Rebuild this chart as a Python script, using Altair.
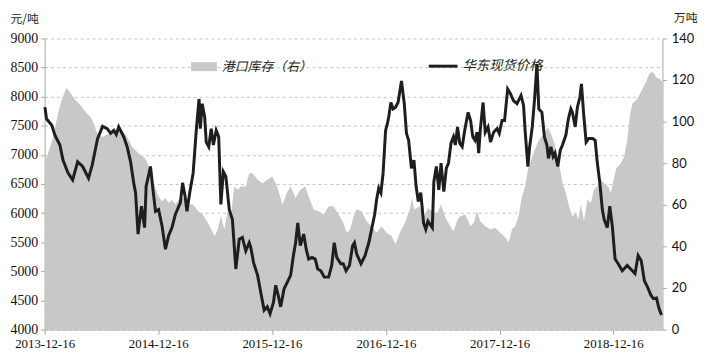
import altair as alt
import pandas as pd

# ---------------- data ----------------
PRICE_DATES = [
    "2013-12-17", "2013-12-22", "2014-01-08", "2014-01-18", "2014-02-03", "2014-02-13", "2014-03-01", "2014-03-16",
    "2014-04-01", "2014-04-17", "2014-05-06", "2014-05-18", "2014-06-04", "2014-06-20", "2014-07-05", "2014-07-16",
    "2014-07-26", "2014-08-03", "2014-08-11", "2014-08-27", "2014-09-07", "2014-09-18", "2014-09-28", "2014-10-04",
    "2014-10-12", "2014-10-23", "2014-11-02", "2014-11-07", "2014-11-21", "2014-11-29", "2014-12-07", "2014-12-17",
    "2014-12-28", "2015-01-08", "2015-01-18", "2015-01-29", "2015-02-09", "2015-02-25", "2015-03-04", "2015-03-12",
    "2015-03-18", "2015-03-27", "2015-04-07", "2015-04-17", "2015-04-26", "2015-04-30", "2015-05-06", "2015-05-14",
    "2015-05-19", "2015-05-27", "2015-06-04", "2015-06-11", "2015-06-20", "2015-06-28", "2015-07-05", "2015-07-13",
    "2015-07-21", "2015-08-01", "2015-08-11", "2015-08-22", "2015-09-02", "2015-09-12", "2015-09-23", "2015-10-04",
    "2015-10-09", "2015-10-18", "2015-10-31", "2015-11-10", "2015-11-21", "2015-12-01", "2015-12-10", "2015-12-21",
    "2015-12-28", "2016-01-05", "2016-01-13", "2016-01-24", "2016-02-03", "2016-02-14", "2016-02-23", "2016-03-01",
    "2016-03-08", "2016-03-16", "2016-03-27", "2016-04-04", "2016-04-12", "2016-04-23", "2016-05-03", "2016-05-11",
    "2016-05-21", "2016-06-01", "2016-06-15", "2016-06-25", "2016-07-03", "2016-07-11", "2016-07-24", "2016-08-01",
    "2016-08-10", "2016-08-21", "2016-08-31", "2016-09-06", "2016-09-13", "2016-09-27", "2016-10-10", "2016-10-22",
    "2016-10-31", "2016-11-10", "2016-11-16", "2016-11-23", "2016-11-30", "2016-12-07", "2016-12-15", "2016-12-21",
    "2016-12-25", "2017-01-01", "2017-01-08", "2017-01-16", "2017-01-24", "2017-02-04", "2017-02-13", "2017-02-20",
    "2017-02-27", "2017-03-08", "2017-03-16", "2017-03-23", "2017-03-30", "2017-04-07", "2017-04-16", "2017-04-23",
    "2017-04-30", "2017-05-14", "2017-05-19", "2017-05-27", "2017-06-04", "2017-06-11", "2017-06-20", "2017-06-28",
    "2017-07-05", "2017-07-13", "2017-07-21", "2017-07-27", "2017-08-03", "2017-08-10", "2017-08-18", "2017-08-26",
    "2017-09-06", "2017-09-14", "2017-09-21", "2017-09-28", "2017-10-05", "2017-10-10", "2017-10-15", "2017-10-24",
    "2017-10-31", "2017-11-09", "2017-11-17", "2017-11-27", "2017-12-08", "2017-12-15", "2017-12-24", "2018-01-01",
    "2018-01-11", "2018-01-20", "2018-01-30", "2018-02-10", "2018-02-23", "2018-03-03", "2018-03-08", "2018-03-17",
    "2018-03-22", "2018-03-31", "2018-04-08", "2018-04-15", "2018-04-21", "2018-05-01", "2018-05-09", "2018-05-17",
    "2018-05-22", "2018-05-30", "2018-06-06", "2018-06-12", "2018-06-21", "2018-06-29", "2018-07-06", "2018-07-17",
    "2018-07-25", "2018-08-02", "2018-08-07", "2018-08-16", "2018-08-23", "2018-08-31", "2018-09-05", "2018-09-12",
    "2018-09-20", "2018-09-28", "2018-10-11", "2018-10-19", "2018-10-26", "2018-11-03", "2018-11-11", "2018-11-17",
    "2018-11-27", "2018-12-05", "2018-12-13", "2018-12-22", "2019-01-01", "2019-01-14", "2019-01-30", "2019-02-10",
    "2019-02-24", "2019-03-06", "2019-03-16", "2019-03-26", "2019-04-05", "2019-04-16", "2019-04-24", "2019-05-04",
    "2019-05-12", "2019-05-20",
]
PRICE = [
    7820, 7620, 7510, 7340, 7170, 6910, 6690, 6570,
    6880, 6800, 6600, 6830, 7280, 7490, 7450, 7370,
    7420, 7350, 7480, 7310, 7140, 6880, 6520, 6350,
    5640, 6120, 5750, 6460, 6800, 6400, 6030, 6060,
    5780, 5380, 5610, 5750, 5980, 6180, 6520, 6290,
    6030, 6350, 6690, 7420, 7960, 7450, 7880, 7650,
    7220, 7140, 7450, 7170, 7420, 7310, 6150, 6710,
    6630, 6060, 5890, 5040, 5550, 5580, 5350, 5490,
    5410, 5150, 4930, 4640, 4330, 4390, 4270, 4470,
    4760, 4590, 4390, 4700, 4810, 4930, 5270, 5490,
    5830, 5440, 5640, 5380, 5210, 5240, 5210, 5040,
    5010, 4900, 4900, 5100, 5490, 5240, 5130, 5130,
    5010, 5100, 5440, 5490, 5300, 5130, 5270, 5490,
    5720, 5980, 6230, 6430, 6350, 6690, 7420, 7540,
    7650, 7900, 7790, 7820, 7900, 8270, 7880, 7370,
    7250, 6770, 6910, 6460, 6200, 6350, 5830, 5720,
    5860, 5750, 6540, 6800, 6400, 6860, 6370, 6770,
    6860, 7200, 7310, 7170, 7480, 7200, 7140, 7420,
    7730, 7590, 7310, 7250, 7390, 7030, 7420, 7900,
    7390, 7480, 7220, 7390, 7450, 7370, 7590, 7590,
    8130, 8050, 7930, 7880, 8020, 7850, 7420, 6800,
    7110, 7480, 7990, 8560, 7790, 7730, 7310, 7170,
    6940, 7140, 6970, 7030, 6800, 7080, 7170, 7340,
    7620, 7790, 7730, 7480, 7820, 7990, 8220, 7710,
    7220, 7280, 7280, 7250, 6860, 6520, 6060, 5890,
    5750, 6120, 5780, 5210, 5130, 5010, 5100, 5040,
    4960, 5270, 5180, 4840, 4730, 4590, 4530, 4540,
    4360, 4250,
]

STOCK_DATES = [
    "2013-12-16", "2013-12-27", "2014-01-12", "2014-01-28", "2014-02-08", "2014-02-24", "2014-03-11", "2014-03-26",
    "2014-04-11", "2014-04-27", "2014-05-13", "2014-05-23", "2014-06-03", "2014-06-19", "2014-07-10", "2014-07-31",
    "2014-08-22", "2014-09-07", "2014-09-23", "2014-10-14", "2014-11-04", "2014-11-16", "2014-12-01", "2014-12-17",
    "2014-12-28", "2015-01-08", "2015-01-18", "2015-01-29", "2015-02-09", "2015-02-19", "2015-03-07", "2015-03-21",
    "2015-04-07", "2015-04-23", "2015-05-08", "2015-05-24", "2015-06-04", "2015-06-15", "2015-06-25", "2015-07-05",
    "2015-07-16", "2015-07-27", "2015-08-06", "2015-08-17", "2015-08-28", "2015-09-07", "2015-09-23", "2015-10-04",
    "2015-10-15", "2015-10-31", "2015-11-16", "2015-12-01", "2015-12-17", "2016-01-02", "2016-01-19", "2016-02-01",
    "2016-02-14", "2016-03-01", "2016-03-16", "2016-04-01", "2016-04-12", "2016-04-28", "2016-05-14", "2016-05-30",
    "2016-06-15", "2016-07-01", "2016-07-17", "2016-08-01", "2016-08-12", "2016-08-23", "2016-09-03", "2016-09-13",
    "2016-09-29", "2016-10-15", "2016-10-31", "2016-11-16", "2016-12-02", "2016-12-18", "2017-01-03", "2017-01-16",
    "2017-01-30", "2017-02-15", "2017-03-03", "2017-03-10", "2017-03-17", "2017-04-02", "2017-04-18", "2017-04-30",
    "2017-05-14", "2017-05-30", "2017-06-11", "2017-06-25", "2017-07-11", "2017-07-21", "2017-08-03", "2017-08-12",
    "2017-08-28", "2017-09-14", "2017-09-24", "2017-10-05", "2017-10-15", "2017-10-31", "2017-11-17", "2017-12-02",
    "2017-12-18", "2018-01-04", "2018-01-14", "2018-01-25", "2018-02-04", "2018-02-15", "2018-02-26", "2018-03-08",
    "2018-03-17", "2018-03-27", "2018-04-08", "2018-04-18", "2018-04-29", "2018-05-09", "2018-05-19", "2018-05-30",
    "2018-06-10", "2018-06-21", "2018-06-28", "2018-07-06", "2018-07-17", "2018-07-27", "2018-08-07", "2018-08-18",
    "2018-08-26", "2018-09-03", "2018-09-13", "2018-09-24", "2018-10-05", "2018-10-15", "2018-10-26", "2018-11-06",
    "2018-11-17", "2018-11-30", "2018-12-08", "2018-12-15", "2018-12-26", "2019-01-09", "2019-01-20", "2019-01-30",
    "2019-02-07", "2019-02-15", "2019-03-03", "2019-03-17", "2019-03-28", "2019-04-13", "2019-04-24", "2019-05-04",
    "2019-05-15", "2019-05-23",
]
STOCK = [
    80.5, 84.7, 92.6, 103.8, 110.1, 116.2, 113.3, 110.1,
    107.7, 104.5, 102.2, 99.0, 94.2, 92.6, 94.2, 95.8,
    95.8, 92.6, 87.9, 84.7, 82.3, 78.3, 70.4, 64.0,
    61.6, 63.3, 60.9, 62.4, 60.1, 62.4, 63.3, 60.1,
    60.1, 56.9, 55.3, 51.3, 48.1, 45.0, 48.1, 54.5,
    48.1, 56.9, 54.5, 68.8, 67.2, 68.8, 68.8, 75.2,
    75.2, 72.0, 70.4, 72.0, 73.6, 68.8, 60.1, 65.6,
    68.8, 63.3, 67.2, 68.8, 64.0, 57.7, 56.9, 55.3,
    59.3, 59.3, 55.3, 51.3, 46.6, 48.1, 54.5, 57.7,
    56.9, 52.1, 49.7, 46.6, 49.7, 46.6, 45.0, 41.0,
    46.6, 51.3, 57.7, 63.3, 57.7, 59.3, 54.5, 58.5,
    56.9, 56.1, 60.1, 53.7, 49.7, 47.3, 52.9, 54.5,
    55.3, 49.7, 51.3, 56.9, 52.1, 49.7, 48.1, 49.0,
    46.6, 44.2, 41.8, 48.1, 49.7, 54.5, 64.0, 68.8,
    76.7, 81.5, 86.3, 90.2, 92.6, 94.2, 97.4, 94.2,
    89.5, 81.5, 77.5, 70.4, 65.6, 59.3, 54.5, 56.1,
    52.9, 60.1, 52.1, 62.4, 60.9, 67.2, 68.8, 72.0,
    70.4, 68.8, 65.6, 70.4, 77.6, 79.9, 83.1, 91.1,
    102.2, 108.5, 110.9, 114.9, 118.1, 123.6, 123.6, 121.2,
    120.5, 118.8,
]

TICK_DATES = ["2013-12-16", "2014-12-16", "2015-12-16", "2016-12-16", "2017-12-16", "2018-12-16"]
X_DOMAIN = ["2013-12-16", "2019-05-23"]
LEFT_TICKS = [4000, 4500, 5000, 5500, 6000, 6500, 7000, 7500, 8000, 8500, 9000]
RIGHT_TICKS = [0, 20, 40, 60, 80, 100, 120, 140]
SERIES_STOCK = "港口库存（右）"
SERIES_PRICE = "华东现货价格"
LEFT_UNIT = "元/吨"
RIGHT_UNIT = "万吨"

price_df = pd.DataFrame({"date": PRICE_DATES, "price": PRICE})
stock_df = pd.DataFrame({"date": STOCK_DATES, "stock": STOCK})


def dt(s):
    y, m, d = (int(p) for p in s.split("-"))
    return alt.DateTime(year=y, month=m, date=d, utc=True)


SERIF = "Liberation Serif"
CJK = "Noto Sans CJK SC"
AX_GRAY = "#a6a6a6"

x_enc = alt.X(
    "date:T",
    scale=alt.Scale(type="utc", domain=[dt(X_DOMAIN[0]), dt(X_DOMAIN[1])]),
    axis=alt.Axis(
        values=[dt(s) for s in TICK_DATES],
        labelExpr="utcFormat(datum.value, '%Y-%m-%d')",
        title=None,
        grid=False,
        labelFont=SERIF,
        labelFontSize=13,
        labelColor="#111111",
        labelFlush=False,
        labelOverlap=False,
        labelPadding=3,
        domainColor=AX_GRAY,
        tickColor=AX_GRAY,
        tickSize=5,
    ),
)

area = alt.Chart(stock_df).mark_area(color="#c8c8c8", opacity=1, interpolate="linear").encode(
    x=x_enc,
    y=alt.Y(
        "stock:Q",
        scale=alt.Scale(domain=[0, 140], nice=False, zero=True),
        axis=alt.Axis(
            orient="right",
            values=RIGHT_TICKS,
            format="d",
            grid=False,
            title=RIGHT_UNIT,
            titleAngle=0,
            titleAlign="left",
            titleBaseline="middle",
            titleX=11,
            titleY=-21,
            titleFont=CJK,
            titleFontSize=12,
            titleFontWeight="normal",
            titleColor="#222222",
            labelFont="Lato",
            labelFontSize=13,
            labelColor="#111111",
            labelPadding=5,
            domainColor=AX_GRAY,
            tickColor=AX_GRAY,
            tickSize=4,
        ),
    ),
)

line = alt.Chart(price_df).mark_line(color="#1e1e1e", strokeWidth=3, interpolate="linear").encode(
    x=x_enc,
    y=alt.Y(
        "price:Q",
        scale=alt.Scale(domain=[4000, 9000], nice=False, zero=False),
        axis=alt.Axis(
            orient="left",
            values=LEFT_TICKS,
            format="d",
            grid=True,
            gridColor="#c4c4c4",
            gridDash=[3, 3],
            gridWidth=1,
            title=LEFT_UNIT,
            titleAngle=0,
            titleAlign="left",
            titleBaseline="middle",
            titleX=-35,
            titleY=-20,
            titleFont=CJK,
            titleFontSize=12,
            titleFontWeight="normal",
            titleColor="#222222",
            labelFont=SERIF,
            labelFontSize=14,
            labelColor="#111111",
            labelPadding=3,
            domainColor=AX_GRAY,
            tickColor=AX_GRAY,
            tickSize=4,
        ),
    ),
)

one = pd.DataFrame({"k": [0]})
leg_rect = alt.Chart(one).mark_rect(color="#c8c8c8").encode(
    x=alt.value(148), x2=alt.value(174), y=alt.value(24), y2=alt.value(33)
)
leg_rect_txt = alt.Chart(one).mark_text(
    align="left", baseline="middle", font=CJK, fontSize=13, fontStyle="italic", color="#222222"
).encode(x=alt.value(179), y=alt.value(29), text=alt.value(SERIES_STOCK))
leg_line = alt.Chart(one).mark_rule(color="#1e1e1e", strokeWidth=3).encode(
    x=alt.value(388), x2=alt.value(417), y=alt.value(28)
)
leg_line_txt = alt.Chart(one).mark_text(
    align="left", baseline="middle", font=CJK, fontSize=13.5, fontStyle="italic", color="#222222"
).encode(x=alt.value(422), y=alt.value(28), text=alt.value(SERIES_PRICE))

chart = (
    alt.layer(area, line, leg_rect, leg_rect_txt, leg_line, leg_line_txt)
    .resolve_scale(y="independent")
    .properties(
        width=624,
        height=294,
        autosize=alt.AutoSizeParams(type="none"),
        padding={"left": 37, "top": 29, "right": 42, "bottom": 26},
        background="white",
    )
    .configure_view(stroke=None)
)

chart.save("out.html", embed_options={"renderer": "svg", "actions": False})
